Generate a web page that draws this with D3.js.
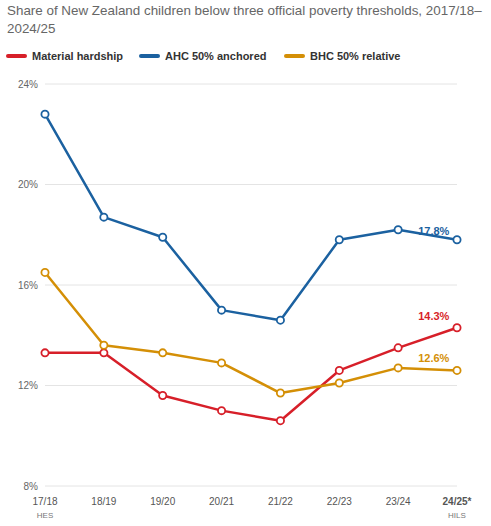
<!DOCTYPE html>
<html>
<head>
<meta charset="utf-8">
<script src="https://cdn.jsdelivr.net/npm/d3@7"></script>
<style>
  body { margin: 0; background: #fff; font-family: "Liberation Sans", Arial, sans-serif; }
  .title { fill: #666; font-size: 13.4px; }
  .legend text { font-size: 11px; font-weight: bold; fill: #333; }
  .ytick { font-size: 10px; fill: #666; }
  .xtick { font-size: 10px; fill: #555; }
  .src { font-size: 8px; fill: #777; }
</style>
</head>
<body>
<div id="chart"></div>
<script>
// data
const years = ['17/18', '18/19', '19/20', '20/21', '21/22', '22/23', '23/24', '24/25*'];
const surveys = ['HES', '', '', '', '', '', '', 'HILS'];
const hardship = [13.3, 13.3, 11.6, 11.0, 10.6, 12.6, 13.5, 14.3];
const ahcAnchored = [22.8, 18.7, 17.9, 15.0, 14.6, 17.8, 18.2, 17.8];
const bhcRelative = [16.5, 13.6, 13.3, 12.9, 11.7, 12.1, 12.7, 12.6];
const yTicks = [8, 12, 16, 20, 24];

const series = [
  { label: 'Material hardship', values: hardship, color: '#d71f29' },
  { label: 'AHC 50% anchored', values: ahcAnchored, color: '#1b61a0' },
  { label: 'BHC 50% relative', values: bhcRelative, color: '#d48f06' }
];

const width = 491, height = 526;
const svg = d3.select('#chart').append('svg').attr('width', width).attr('height', height);

svg.append('text').attr('class', 'title').attr('x', 7).attr('y', 15)
  .text('Share of New Zealand children below three official poverty thresholds, 2017/18–');
svg.append('text').attr('class', 'title').attr('x', 7).attr('y', 33).text('2024/25');

// legend
const legendX = [7, 140, 285];
const lg = svg.append('g').attr('class', 'legend');
series.forEach((s, i) => {
  lg.append('line').attr('x1', legendX[i] + 1).attr('x2', legendX[i] + 18)
    .attr('y1', 56).attr('y2', 56).attr('stroke', s.color).attr('stroke-width', 4)
    .attr('stroke-linecap', 'round');
  lg.append('text').attr('x', legendX[i] + 25).attr('y', 60).text(s.label);
});

const x = d3.scalePoint().domain(years).range([45, 457]);
const y = d3.scaleLinear().domain([8, 24]).range([486, 84]);

// grid
svg.append('g').selectAll('line').data(yTicks).enter().append('line')
  .attr('x1', 45).attr('x2', 457)
  .attr('y1', d => y(d)).attr('y2', d => y(d))
  .attr('stroke', '#e4e4e4').attr('stroke-width', 1);

svg.append('g').selectAll('text').data(yTicks).enter().append('text')
  .attr('class', 'ytick').attr('x', 38).attr('y', d => y(d) + 3.5)
  .attr('text-anchor', 'end').text(d => d + '%');

// x labels
svg.append('g').selectAll('text').data(years).enter().append('text')
  .attr('class', 'xtick').attr('x', d => x(d)).attr('y', 505)
  .attr('text-anchor', 'middle')
  .attr('font-weight', (d, i) => i === years.length - 1 ? 'bold' : null)
  .attr('fill', (d, i) => i === years.length - 1 ? '#333' : null)
  .text(d => d);

svg.append('g').selectAll('text').data(surveys).enter().append('text')
  .attr('class', 'src').attr('x', (d, i) => x(years[i])).attr('y', 518)
  .attr('text-anchor', 'middle').text(d => d);

const line = d3.line().x((d, i) => x(years[i])).y(d => y(d));

series.forEach(s => {
  const g = svg.append('g');
  g.append('path').datum(s.values).attr('d', line)
    .attr('fill', 'none').attr('stroke', s.color).attr('stroke-width', 2.5)
    .attr('stroke-linejoin', 'round');
  g.selectAll('circle').data(s.values).enter().append('circle')
    .attr('cx', (d, i) => x(years[i])).attr('cy', d => y(d)).attr('r', 3.6)
    .attr('fill', '#fff').attr('stroke', s.color).attr('stroke-width', 1.8);
  const last = s.values[s.values.length - 1];
  const lx = x(years[years.length - 2]) + 20;
  const lyOff = s.label === 'AHC 50% anchored' ? -5 : -8;
  g.append('text').attr('x', lx).attr('y', y(last) + lyOff)
    .attr('font-size', '11px').attr('font-weight', 'bold').attr('fill', s.color)
    .text(last.toFixed(1) + '%');
});
</script>
</body>
</html>
